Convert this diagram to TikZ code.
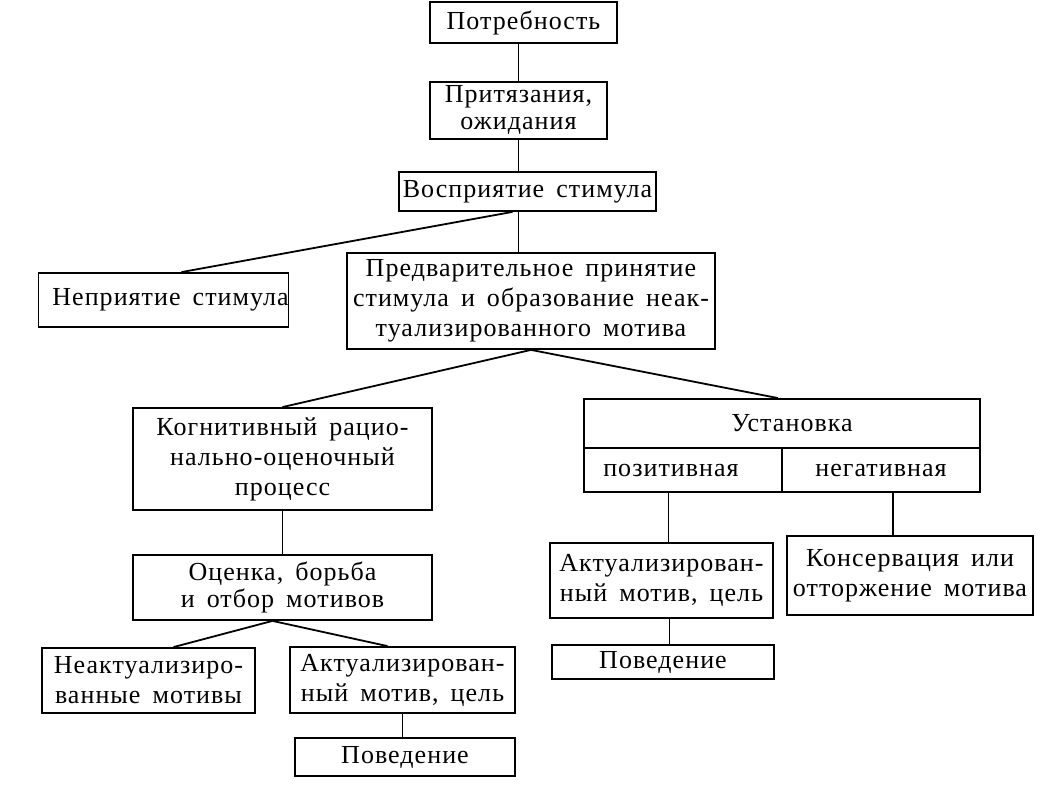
\documentclass[tikz,border=0pt]{standalone}
\usepackage{fontspec}
\setmainfont[LetterSpace=4,WordSpace=1.6]{Liberation Serif}
\usetikzlibrary{positioning,calc}

\begin{document}
\begin{tikzpicture}[
  x=1pt,y=-1pt,
  font=\fontsize{26}{30}\selectfont,
  box/.style={draw,line width=1.8pt,align=center,inner sep=0pt},
  tight/.style={font=\fontsize{26}{27}\selectfont},
  link/.style={line width=1.8pt}]
\useasboundingbox (0,0) rectangle (1046,786);

% upper chain
\node[box,minimum width=187pt,minimum height=41pt] (pot) at (523.5,22.5) {Потребность};
\node[box,tight,minimum width=177pt,minimum height=57pt] (prit) at (518.5,110.5) {Притязания,\\ожидания};
\node[box,minimum width=257pt,minimum height=39pt] (vos) at (527.5,191.5) {Восприятие стимула};

% first split
\node[box,minimum width=247pt,minimum height=54pt] (nepr) at (163.5,300) {\hspace*{14pt}Неприятие стимула};
\node[box,minimum width=368pt,minimum height=96pt] (pred) at (531,301)
  {Предварительное принятие\\стимула и образование неак-\\туализированного мотива};

% left branch
\node[box,minimum width=299pt,minimum height=102pt] (kog) at (282.5,459)
  {Когнитивный рацио-\\нально-оценочный\\процесс};
\node[box,tight,minimum width=299pt,minimum height=65pt] (ots) at (282.5,587.5) {Оценка, борьба\\и отбор мотивов};
\node[box,minimum width=213pt,minimum height=65pt] (nea) at (148.5,680.5) {Неактуализиро-\\ванные мотивы};
\node[box,minimum width=225pt,minimum height=66pt] (act1) at (402.5,680) {Актуализирован-\\ный мотив, цель};
\node[box,minimum width=220pt,minimum height=38pt] (pov1) at (405,757) {Поведение};

% right branch
\node[box,minimum width=396pt,minimum height=49pt] (ust) at (782,423.5) {\hspace*{20pt}Установка};
\node[box,minimum width=198pt,minimum height=44pt] (poz) at (683,470) {позитивная\hspace*{24pt}};
\node[box,minimum width=198pt,minimum height=44pt] (neg) at (881,470) {негативная};
\node[box,minimum width=223pt,minimum height=75pt] (act2) at (661.5,580.5) {Актуализирован-\\ный мотив, цель};
\node[box,minimum width=246pt,minimum height=79pt] (kons) at (910,575.5) {Консервация или\\отторжение мотива};
\node[box,minimum width=222pt,minimum height=34pt] (pov2) at (663,662) {Поведение};

% connectors
\draw[link] (prit.north) -- (prit.north |- pot.south);
\draw[link] (prit.south) -- (prit.south |- vos.north);
\draw[link] (vos.south -| prit.south) -- (pred.north -| prit.south);
\draw[link] ([xshift=-6pt]vos.south -| prit.south) -- ([xshift=18pt]nepr.north);
\draw[link] (pred.south) -- (kog.north);
\draw[link] (pred.south) -- ([xshift=-4pt]ust.north);
\draw[link] (kog.south) -- (ots.north);
\draw[link] ([xshift=-10pt]ots.south) -- ([xshift=25pt]nea.north);
\draw[link] ([xshift=-10pt]ots.south) -- ([xshift=-15pt]act1.north);
\draw[link] (act1.south) -- (act1.south |- pov1.north);
\draw[link] ([xshift=7pt]act2.north) -- ([xshift=7pt]act2.north |- poz.south);
\draw[link] ([xshift=-17pt]kons.north) -- ([xshift=-17pt]kons.north |- neg.south);
\draw[link] ([xshift=8pt]act2.south) -- ([xshift=8pt]act2.south |- pov2.north);
\end{tikzpicture}
\end{document}
